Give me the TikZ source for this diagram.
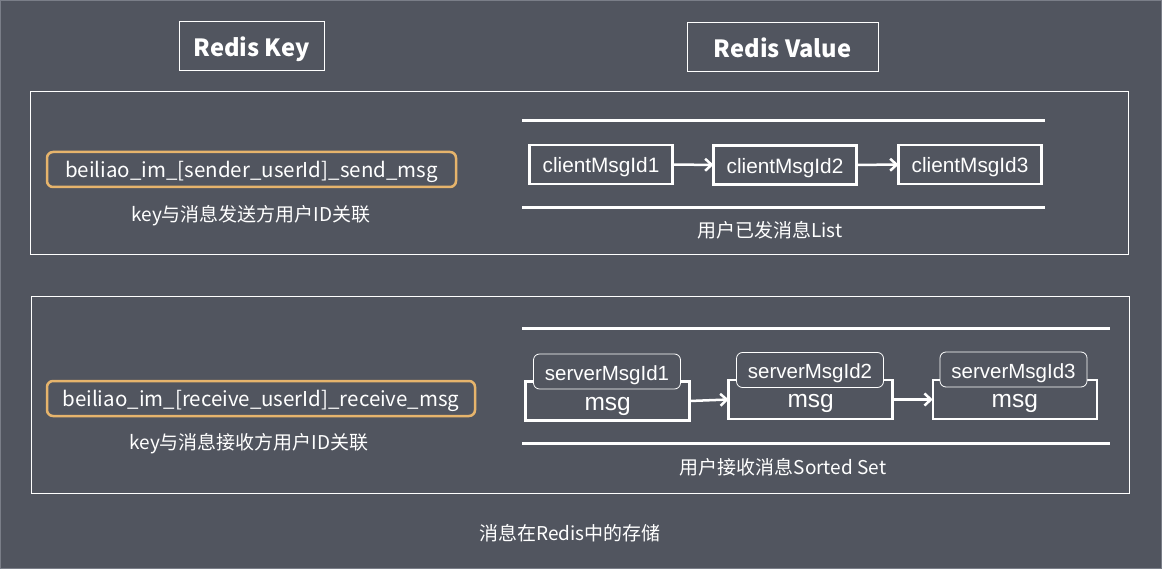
\documentclass[tikz,border=0pt]{standalone}
\usepackage{fontspec}
\setmainfont{Noto Sans CJK SC}
\newfontfamily\arialfont{Liberation Sans}
\usetikzlibrary{arrows.meta}
\definecolor{bg}{HTML}{51555F}
\definecolor{keyorange}{HTML}{E6B46C}
\definecolor{edgegray}{HTML}{7A7E88}
\newcommand{\lowertext}[2]{\raisebox{-#1}[\height][\depth]{#2}}
\begin{document}
\begin{tikzpicture}[x=1pt,y=-1pt,
  every node/.style={text=white, inner sep=0pt, outer sep=0pt},
  titlebox/.style={draw=white, line width=1pt, minimum height=49pt, font=\fontsize{23.7}{28}\selectfont\bfseries},
  panel/.style={draw=white, line width=0.8pt},
  keybox/.style={draw=keyorange, line width=2.5pt, rounded corners=6pt, minimum height=35pt, font=\fontsize{20.5}{24}\selectfont},
  note/.style={font=\fontsize{19}{22}\selectfont},
  idbox/.style={draw=white, line width=2.5pt, minimum width=143pt, minimum height=39pt, font=\arialfont\fontsize{20.8}{24}\selectfont},
  msgbox/.style={draw=white, line width=2.5pt, minimum width=164pt, minimum height=39pt},
  labelbox/.style={draw=white, fill=bg, line width=0.8pt, rounded corners=6pt, minimum width=147pt, minimum height=35pt, font=\arialfont\fontsize{20.5}{24}\selectfont},
  msgtext/.style={font=\arialfont\fontsize{24.5}{28}\selectfont},
  rule/.style={draw=white, line width=3pt},
  link/.style={draw=white, line width=2.5pt, -{Straight Barb[length=6.5pt,width=12pt,line width=2.5pt]}}
]
\useasboundingbox (0,0) rectangle (1162,569);
\fill[bg] (0,0) rectangle (1162,569);
\draw[edgegray, line width=1pt] (0.5,0.5) rectangle (1161.5,568.5);

% titles
\node[titlebox, minimum width=145pt] (tkey) at (251.5,46.5) {\lowertext{3pt}{Redis Key}};
\node[titlebox, minimum width=191pt] (tval) at (782.5,47.5) {\lowertext{0pt}{Redis Value}};

% panels
\node[panel, minimum width=1098pt, minimum height=163pt] (p1) at (579,172.5) {};
\node[panel, minimum width=1098pt, minimum height=197pt] (p2) at (580,394.5) {};

% panel 1
\node[keybox, minimum width=409pt] (k1) at (251.5,169.5) {\lowertext{2.5pt}{beiliao\_im\_[sender\_userId]\_send\_msg}};
\node[note] (n1) at (251,216) {key与消息发送方用户ID关联};

\coordinate (l1a) at (522,120.5); \coordinate (l1b) at (1045,120.5);
\coordinate (l2a) at (522,208); \coordinate (l2b) at (1045,208);
\draw[rule] (l1a) -- (l1b);
\draw[rule] (l2a) -- (l2b);

\node[idbox] (c1) at (601,164.5) {\lowertext{3pt}{clientMsgId1}};
\node[idbox] (c2) at (785,165) {\lowertext{3pt}{clientMsgId2}};
\node[idbox] (c3) at (970,164.5) {\lowertext{3pt}{clientMsgId3}};
\draw[link] (c1) -- (c2);
\draw[link] (c2) -- (c3);
\node[note] (n2) at (770,230.5) {用户已发消息List};

% panel 2
\node[keybox, minimum width=428pt] (k2) at (261,398.5) {\lowertext{2.5pt}{beiliao\_im\_[receive\_userId]\_receive\_msg}};
\node[note] (n3) at (249,444) {key与消息接收方用户ID关联};

\coordinate (l3a) at (522,329); \coordinate (l3b) at (1110,329);
\coordinate (l4a) at (522,443); \coordinate (l4b) at (1110,443);
\draw[rule] (l3a) -- (l3b);
\draw[rule] (l4a) -- (l4b);

\node[msgbox] (s1) at (607.7,401) {};
\node[msgbox] (s2) at (810.7,399.5) {};
\node[msgbox] (s3) at (1014.8,399.5) {};
\draw[link] (s1.east) -- (s2.west);
\draw[link] (s2.east) -- (s3.west);
\node[labelbox] (t1) at (607,371.5) {\lowertext{3.5pt}{serverMsgId1}};
\node[labelbox] (t2) at (810,370) {\lowertext{3.5pt}{serverMsgId2}};
\node[labelbox] (t3) at (1013.5,369.5) {\lowertext{3.5pt}{serverMsgId3}};
\node[msgtext] (m1) at (607.7,406) {msg};
\node[msgtext] (m2) at (810.7,403) {msg};
\node[msgtext] (m3) at (1014.8,403) {msg};
\node[note] (n4) at (783,467) {用户接收消息Sorted Set};

\node[note] (cap) at (570,533.5) {消息在Redis中的存储};
\end{tikzpicture}
\end{document}
